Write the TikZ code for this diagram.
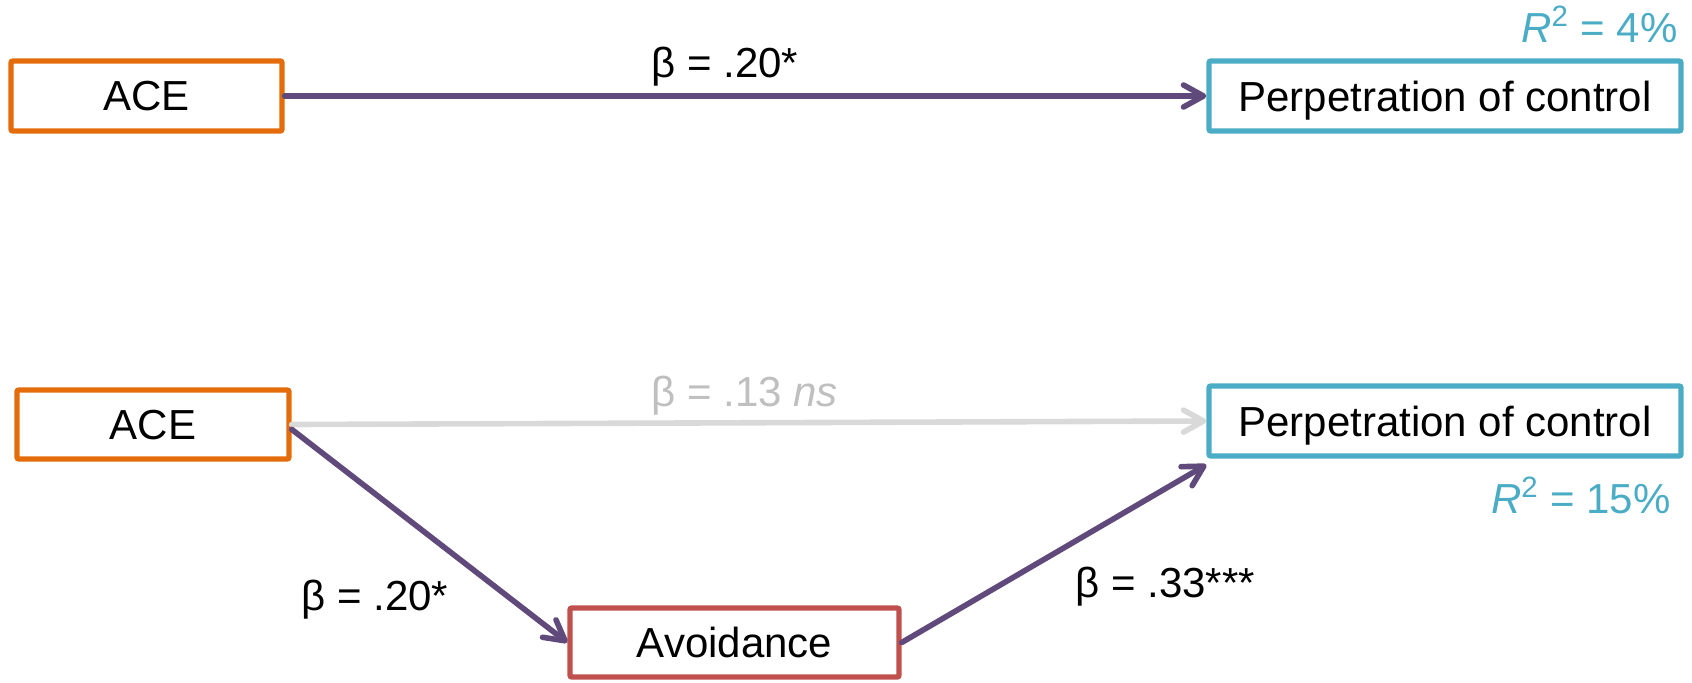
\documentclass[tikz,border=0pt]{standalone}
\usepackage{fontspec}
\setmainfont{Liberation Sans}
\usetikzlibrary{arrows.meta}
\definecolor{cOrange}{HTML}{E46C0A}
\definecolor{cTeal}{HTML}{4BACC6}
\definecolor{cRed}{HTML}{C0504D}
\definecolor{cPurple}{HTML}{604A7B}
\definecolor{cLine}{HTML}{D9D9D9}
\definecolor{cLabel}{HTML}{BFBFBF}
\tikzset{
  txt/.style={font=\fontsize{21pt}{25pt}\selectfont},
  boxnode/.style={txt, draw, line width=2.7pt, fill=white, rounded corners=1pt, inner sep=0pt, text depth=0pt},
  conn/.style={line width=2.8pt, line cap=round, -{Straight Barb[length=10pt,width=11pt,line cap=round,line join=round]}},
  lab/.style={txt, anchor=base west, inner sep=0pt}
}
\begin{document}
\begin{tikzpicture}[x=0.5pt,y=-0.5pt]
\useasboundingbox (0,0) rectangle (1692,682);
% top model
\node[boxnode, draw=cOrange, minimum width=135.5pt, minimum height=35pt] (ace1) at (146.5,96) {ACE};
\node[boxnode, draw=cTeal, minimum width=236pt, minimum height=35pt] (perp1) at (1445,96) {Perpetration of control};
\draw[conn, cPurple] (ace1.east) -- (perp1.west);
\node[lab] (b1) at (651,77) {β = .20*};
\node[txt, anchor=base east, inner sep=0pt, text=cTeal] (r1) at (1678,42) {\textit{R}\textsuperscript{2} = 4\%};
% bottom model
\node[boxnode, draw=cOrange, minimum width=136pt, minimum height=34.5pt] (ace2) at (153,424.5) {ACE};
\node[boxnode, draw=cTeal, minimum width=236pt, minimum height=35pt] (perp2) at (1445,421) {Perpetration of control};
\node[boxnode, draw=cRed, minimum width=164.5pt, minimum height=34.5pt] (avoid) at (734.5,642.5) {Avoidance};
\draw[conn, cLine] (ace2.east) -- (perp2.west);
\draw[conn, cPurple] (ace2.-2.5) -- (avoid.west);
\draw[conn, cPurple] (avoid.east) -- ([yshift=-3pt]perp2.south west);
\node[lab, text=cLabel] (b2) at (651,406) {β = .13 \textit{ns}};
\node[lab] (b3) at (301,610) {β = .20*};
\node[lab] (b4) at (1075,597) {β = .33***};
\node[txt, anchor=base east, inner sep=0pt, text=cTeal] (r2) at (1671,513) {\textit{R}\textsuperscript{2} = 15\%};
\end{tikzpicture}
\end{document}
